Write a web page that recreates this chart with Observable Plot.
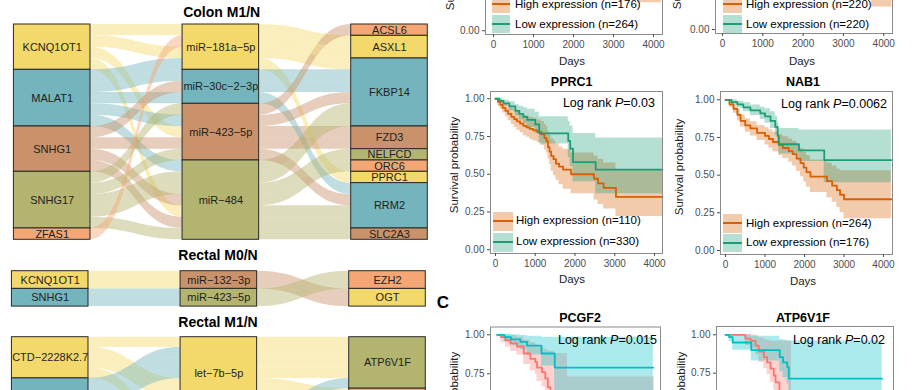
<!DOCTYPE html>
<html><head><meta charset="utf-8">
<script src="https://cdn.jsdelivr.net/npm/d3@7"></script>
<script src="https://cdn.jsdelivr.net/npm/@observablehq/plot@0.6"></script>
<style>
html,body{margin:0;padding:0;background:#fff;}
#root{position:relative;width:915px;height:390px;overflow:hidden;background:#fff;font-family:'Liberation Sans',Arial,Helvetica,sans-serif;}
.lbl{position:absolute;white-space:nowrap;line-height:1;color:#000;font-family:'Liberation Sans',Arial,Helvetica,sans-serif;}
.sw{position:absolute;}
</style></head><body><div id="root"></div>
<script>
// ---------------- Sankey data ----------------
const palette = ["#F3D96B", "#74B5BD", "#C9926A", "#B3B46F", "#F4A774"];

const colonLnc = ["KCNQ1OT1", "MALAT1", "SNHG1", "SNHG17", "ZFAS1"];
const colonMir = ["miR−181a−5p", "miR−30c−2−3p", "miR−423−5p", "miR−484"];
const colonMrna = ["ACSL6", "ASXL1", "FKBP14", "FZD3", "NELFCD", "ORC6", "PPRC1", "RRM2", "SLC2A3"];
const colonLinks = [
  ["KCNQ1OT1", "miR−181a−5p", "ASXL1"],
  ["KCNQ1OT1", "miR−181a−5p", "FKBP14"],
  ["KCNQ1OT1", "miR−423−5p", "FZD3"],
  ["KCNQ1OT1", "miR−484", "RRM2"],
  ["MALAT1", "miR−181a−5p", "PPRC1"],
  ["MALAT1", "miR−30c−2−3p", "FKBP14"],
  ["MALAT1", "miR−30c−2−3p", "RRM2"],
  ["MALAT1", "miR−423−5p", "FKBP14"],
  ["MALAT1", "miR−484", "FKBP14"],
  ["SNHG1", "miR−30c−2−3p", "FKBP14"],
  ["SNHG1", "miR−423−5p", "FZD3"],
  ["SNHG1", "miR−484", "ORC6"],
  ["SNHG1", "miR−484", "RRM2"],
  ["SNHG17", "miR−423−5p", "RRM2"],
  ["SNHG17", "miR−484", "NELFCD"],
  ["SNHG17", "miR−484", "FKBP14"],
  ["SNHG17", "miR−484", "SLC2A3"],
  ["SNHG17", "miR−423−5p", "ACSL6"],
  ["ZFAS1", "miR−181a−5p", "ASXL1"]
];

const m0Lnc = ["KCNQ1OT1", "SNHG1"];
const m0Mir = ["miR−132−3p", "miR−423−5p"];
const m0Mrna = ["EZH2", "OGT"];
const m0Links = [
  ["KCNQ1OT1", "miR−132−3p", "OGT"],
  ["SNHG1", "miR−423−5p", "EZH2"]
];

const m1Lnc = ["CTD−2228K2.7", "KCNQ1OT1"];
const m1Mir = ["let−7b−5p", "miR−423−5p"];
const m1Mrna = ["ATP6V1F", "PCGF2"];
const m1Links = [
  ["CTD−2228K2.7", "let−7b−5p", "ATP6V1F"],
  ["CTD−2228K2.7", "let−7b−5p", "PCGF2"],
  ["CTD−2228K2.7", "let−7b−5p", "PCGF2"],
  ["CTD−2228K2.7", "miR−423−5p", "PCGF2"],
  ["KCNQ1OT1", "let−7b−5p", "ATP6V1F"],
  ["KCNQ1OT1", "let−7b−5p", "ATP6V1F"],
  ["KCNQ1OT1", "let−7b−5p", "ATP6V1F"],
  ["KCNQ1OT1", "let−7b−5p", "PCGF2"],
  ["KCNQ1OT1", "miR−423−5p", "ATP6V1F"]
];

// ---------------- Survival data ----------------
const survTicksX = [0, 1000, 2000, 3000, 4000];
const survTicksY = [0, 0.25, 0.5, 0.75, 1];

// top-left (cropped) panel
const a1High = {days:[0,300,700,1200,1700,2200,2700,3600,4200], surv:[1,.92,.84,.75,.62,.52,.45,.33,.33], lower:[1,.88,.78,.68,.54,.43,.35,.185,.185], upper:[1,.96,.9,.82,.70,.62,.57,.5,.5]};
const a1Low = {days:[0,300,700,1200,1700,2200,2700,3300,4200], surv:[1,.95,.9,.84,.76,.7,.65,.6,.6], lower:[1,.92,.86,.79,.69,.62,.55,.48,.48], upper:[1,.98,.94,.89,.83,.78,.75,.72,.72]};
// top-right (cropped) panel
const b1High = {days:[0,300,700,1200,1700,2200,2800,3700,4200], surv:[1,.92,.83,.73,.62,.53,.44,.3,.3], lower:[1,.88,.77,.66,.54,.44,.34,.15,.15], upper:[1,.96,.89,.8,.7,.63,.56,.48,.48]};
const b1Low = {days:[0,300,700,1200,1700,2200,2800,3700,4200], surv:[1,.95,.9,.85,.78,.72,.66,.6,.6], lower:[1,.92,.86,.8,.72,.64,.57,.5,.5], upper:[1,.98,.94,.9,.84,.8,.76,.72,.72]};

const pprc1High = {
  days:[0,60,120,180,250,320,400,470,540,620,700,780,860,950,1050,1150,1230,1280,1320,1360,1400,1460,1520,1600,1700,1900,2480,2580,2720,3030,4200],
  surv:[1,.98,.96,.94,.92,.90,.88,.865,.85,.835,.82,.81,.80,.79,.78,.765,.74,.72,.68,.65,.62,.60,.57,.55,.53,.50,.47,.44,.41,.35,.35],
  upper:[1,1,.99,.98,.965,.95,.935,.925,.91,.90,.89,.885,.875,.87,.86,.85,.83,.815,.78,.76,.735,.72,.70,.68,.665,.64,.62,.60,.575,.525,.525],
  lower:[1,.95,.93,.905,.88,.855,.83,.81,.79,.775,.755,.745,.73,.72,.71,.69,.66,.64,.60,.565,.52,.49,.46,.43,.40,.37,.33,.30,.27,.22,.22]
};
const pprc1Low = {
  days:[0,100,200,350,500,600,700,800,1000,1100,1830,1880,1950,2520,4200],
  surv:[1,.985,.97,.95,.92,.90,.88,.86,.83,.77,.72,.67,.58,.53,.53],
  upper:[1,1,.99,.98,.96,.95,.94,.93,.91,.88,.85,.82,.77,.74,.74],
  lower:[1,.97,.95,.92,.885,.86,.835,.81,.77,.70,.61,.55,.45,.37,.37]
};
const nab1High = {
  days:[0,100,200,300,380,500,630,800,1000,1100,1200,1350,1450,1600,1700,1800,1900,1980,2050,2150,2570,2700,2820,2900,3000,4200],
  surv:[1,.97,.94,.90,.86,.83,.81,.78,.76,.74,.72,.70,.68,.66,.64,.61,.58,.55,.52,.49,.46,.43,.40,.37,.34,.34],
  upper:[1,.99,.965,.935,.90,.875,.855,.83,.815,.80,.785,.77,.755,.74,.725,.70,.675,.65,.63,.60,.58,.56,.54,.53,.53,.53],
  lower:[1,.95,.91,.865,.82,.785,.76,.73,.70,.68,.655,.63,.61,.585,.56,.525,.49,.455,.42,.385,.35,.32,.285,.25,.21,.21]
};
const nab1Low = {
  days:[0,150,300,450,630,880,1000,1140,1260,1320,1350,1860,2500,4200],
  surv:[1,.985,.97,.95,.93,.91,.89,.86,.82,.76,.705,.665,.60,.60],
  upper:[1,1,.99,.98,.965,.95,.94,.92,.89,.85,.81,.80,.80,.80],
  lower:[1,.965,.945,.92,.895,.87,.845,.81,.765,.70,.64,.59,.45,.45]
};
const pcgf2High = {
  days:[0,70,150,240,360,480,600,690,720,810,870,915,960,1030,1150,1270,1600,2840],
  surv:[1,.985,.965,.945,.925,.88,.845,.825,.79,.76,.72,.665,.62,.54,.47,.42,.38,.38],
  upper:[1,1,1,.995,.985,.965,.95,.94,.925,.915,.905,.90,.895,.88,.88,.73,.73,.73],
  lower:[1,.95,.92,.895,.87,.81,.77,.745,.70,.665,.62,.555,.50,.41,.33,.27,.22,.22]
};
const pcgf2Low = {
  days:[0,130,250,420,540,800,1040,2820],
  surv:[1,.985,.97,.955,.93,.88,.79,.79],
  upper:[1,1,1,.995,.99,.985,.985,.985],
  lower:[1,.955,.93,.905,.87,.80,.62,.62]
};
const atpHigh = {
  days:[0,330,420,500,555,640,695,750,805,835,900,1000,1100,1500,2610],
  surv:[1,.975,.96,.93,.89,.855,.82,.78,.735,.69,.62,.55,.45,.38,.38],
  upper:[1,1,1,.995,.98,.97,.965,.96,.96,.96,.96,.96,.60,.55,.55],
  lower:[1,.93,.91,.87,.82,.78,.74,.69,.64,.59,.51,.43,.32,.24,.24]
};
const atpLow = {
  days:[0,60,120,430,905,960,1030,1055,2610],
  surv:[1,.985,.95,.90,.855,.82,.79,.715,.715],
  upper:[1,1,1,.99,.97,.965,.96,.96,.96],
  lower:[1,.955,.90,.83,.76,.72,.68,.58,.58]
};

// ---------------- helpers ----------------
const FONT = "'Liberation Sans', Arial, Helvetica, sans-serif";
const root = document.getElementById("root");
const HW = 0.227; // node half width in axis units

function place(el, left, top) {
  const d = document.createElement("div");
  d.style.position = "absolute"; d.style.left = left + "px"; d.style.top = top + "px";
  d.appendChild(el); root.appendChild(d);
}
function txt(html, x, y, o = {}) {
  const d = document.createElement("div");
  d.className = "lbl";
  d.innerHTML = html;
  d.style.left = x + "px"; d.style.top = y + "px";
  d.style.fontSize = (o.size || 11) + "px";
  if (o.bold) d.style.fontWeight = "bold";
  if (o.color) d.style.color = o.color;
  const ax = o.anchor === "start" ? "0" : o.anchor === "end" ? "-100%" : "-50%";
  d.style.transform = `translate(${ax},-50%)` + (o.rotate ? " rotate(-90deg)" : "");
  root.appendChild(d);
}
function swatch(x1, x2, y1, y2, fill, line) {
  const d = document.createElement("div");
  d.className = "sw";
  d.style.left = x1 + "px"; d.style.top = y1 + "px";
  d.style.width = (x2 - x1) + "px"; d.style.height = (y2 - y1) + "px";
  d.style.background = fill;
  const l = document.createElement("div");
  l.style.position = "absolute"; l.style.left = "0"; l.style.right = "0";
  l.style.top = ((y2 - y1) / 2 - 1) + "px"; l.style.height = "2px"; l.style.background = line;
  d.appendChild(l);
  root.appendChild(d);
}

function sankey(lnc, mir, mrna, links, colorStart, xRange, yTop, unit) {
  const axes = [lnc, mir, mrna];
  const nodes = [], colorDomain = [], colorRange = [];
  axes.forEach((names, a) => {
    let c = 0;
    names.forEach((n, i) => {
      const k = links.filter(l => l[a] === n).length;
      nodes.push({axis: a, name: n, y1: c, y2: c + k});
      colorDomain.push(n);
      colorRange.push(palette[(colorStart[a] + i) % palette.length]);
      c += k;
    });
  });
  const total = links.length;
  const orderKeys = [[0, 1, 2], [1, 2, 0], [2, 1, 0]];
  const slot = axes.map(() => new Array(total));
  axes.forEach((names, a) => {
    const idx = links.map((l, k) => k);
    const rank = (k, ax) => axes[ax].indexOf(links[k][ax]);
    idx.sort((p, q) => {
      for (const ax of orderKeys[a]) { const d = rank(p, ax) - rank(q, ax); if (d) return d; }
      return p - q;
    });
    idx.forEach((k, pos) => slot[a][k] = pos);
  });
  const flows = [];
  links.forEach((l, k) => {
    for (let g = 0; g < 2; g++) {
      flows.push({id: `${k}-${g}`, x: g + HW, y1: slot[g][k], y2: slot[g][k] + 1, key: l[g]});
      flows.push({id: `${k}-${g}`, x: g + 1 - HW, y1: slot[g + 1][k], y2: slot[g + 1][k] + 1, key: l[g]});
    }
  });
  return Plot.plot({
    width: 430, height: 390, margin: 0,
    x: {domain: [0, 2], range: xRange, axis: null},
    y: {domain: [0, total], range: [yTop, yTop + total * unit], axis: null},
    color: {domain: colorDomain, range: colorRange},
    style: {fontFamily: FONT, background: "transparent", overflow: "visible"},
    marks: [
      Plot.areaY(flows, {x: "x", y1: "y1", y2: "y2", z: "id", fill: "key", fillOpacity: 0.45, curve: "bump-x"}),
      Plot.rect(nodes, {x1: d => d.axis - HW, x2: d => d.axis + HW, y1: "y1", y2: "y2", fill: "name", stroke: "#2a2a2a", strokeWidth: 1}),
      Plot.text(nodes, {x: "axis", y: d => (d.y1 + d.y2) / 2, text: "name", fontSize: 11, fill: "#1e1e1e"})
    ]
  });
}

function km(c) {
  const rows = [];
  [["High", c.high], ["Low", c.low]].forEach(([g, s]) =>
    s.days.forEach((t, i) => rows.push({g, t, s: s.surv[i], lo: s.lower[i], hi: s.upper[i]})));
  const svg = Plot.plot({
    width: c.w, height: c.h,
    marginLeft: c.mL, marginRight: c.mR, marginTop: c.mT, marginBottom: c.mB,
    x: {domain: c.xd}, y: {domain: c.yd},
    color: {domain: ["High", "Low"], range: c.colors},
    style: {fontFamily: FONT, fontSize: "10px", background: "transparent", overflow: "visible"},
    marks: [
      Plot.areaY(rows, {x: "t", y1: "lo", y2: "hi", z: "g", fill: "g", fillOpacity: 0.33, curve: "step-after"}),
      Plot.line(rows, {x: "t", y: "s", z: "g", stroke: "g", strokeWidth: 1.8, curve: "step-after"}),
      Plot.frame({stroke: "#8a8a8a", strokeWidth: 1}),
      Plot.axisX({ticks: survTicksX, tickFormat: d3.format("d"), tickSize: 3, tickPadding: 3, label: null, color: "#4d4d4d"}),
      Plot.axisY({ticks: survTicksY, tickFormat: d3.format(".2f"), tickSize: 3, tickPadding: 3, label: null, color: "#4d4d4d"})
    ]
  });
  place(svg, c.left, c.top);
}

// ---------------- Sankey panels ----------------
place(sankey(colonLnc, colonMir, colonMrna, colonLinks, [0, 5, 9], [51.7, 389], 24, 215.3 / 19), 0, 0);
place(sankey(m0Lnc, m0Mir, m0Mrna, m0Links, [0, 2, 4], [49.7, 387], 270.7, 17.7), 0, 0);
place(sankey(m1Lnc, m1Mir, m1Mrna, m1Links, [0, 0, 3], [49.7, 387], 336.7, 10.3), 0, 0);
txt("Colon M1/N", 221.7, 11.7, {size: 14, bold: true});
txt("Rectal M0/N", 218, 255, {size: 14, bold: true});
txt("Rectal M1/N", 218, 321.7, {size: 14, bold: true});

// ---------------- Survival panels ----------------
const ORANGE = "#D95F02", GREEN = "#1B9E77";
const OFILL = "rgba(217,95,2,0.33)", GFILL = "rgba(27,158,119,0.33)";
const RED = "#F8766D", CYAN = "#00BFC4";

km({left: 425, top: -148.6, w: 250, h: 230, mL: 60, mR: 13, mT: 21, mB: 47, xd: [-200, 4225], yd: [-0.025, 1.048], high: a1High, low: a1Low, colors: [ORANGE, GREEN]});
km({left: 665, top: -150.7, w: 250, h: 230, mL: 50, mR: 23, mT: 21, mB: 46, xd: [-174, 4218], yd: [-0.0265, 1.055], high: b1High, low: b1Low, colors: [ORANGE, GREEN]});
km({left: 430, top: 70, w: 250, h: 230, mL: 60, mR: 18, mT: 21, mB: 47, xd: [-125, 4200], yd: [-0.025, 1.048], high: pprc1High, low: pprc1Low, colors: [ORANGE, GREEN]});
km({left: 670, top: 70, w: 245, h: 230, mL: 50, mR: 23, mT: 21, mB: 46, xd: [-127, 4228], yd: [-0.0265, 1.055], high: nab1High, low: nab1Low, colors: [ORANGE, GREEN]});
km({left: 430, top: 300, w: 250, h: 230, mL: 60, mR: 20, mT: 26.5, mB: 32, xd: [-120, 2950], yd: [-0.05, 1.05], high: pcgf2High, low: pcgf2Low, colors: [RED, CYAN]});
km({left: 670, top: 300, w: 245, h: 230, mL: 46, mR: 22, mT: 26, mB: 34.4, xd: [-150, 2800], yd: [-0.05, 1.054], high: atpHigh, low: atpLow, colors: [RED, CYAN]});

// legends
swatch(492, 510, -5, 13, OFILL, ORANGE); swatch(492, 510, 15, 33, GFILL, GREEN);
txt("High expression (n=176)", 515, 5, {size: 11.5, anchor: "start"});
txt("Low expression (n=264)", 515, 25, {size: 11.5, anchor: "start"});
swatch(723, 742, -5, 13, OFILL, ORANGE); swatch(723, 742, 15, 33, GFILL, GREEN);
txt("High expression (n=220)", 746, 5, {size: 11.5, anchor: "start"});
txt("Low expression (n=220)", 746, 25, {size: 11.5, anchor: "start"});
swatch(493, 513, 211.5, 230.5, OFILL, ORANGE); swatch(493, 513, 232.5, 251.5, GFILL, GREEN);
txt("High expression (n=110)", 516, 220.7, {size: 11.5, anchor: "start"});
txt("Low expression (n=330)", 516, 241.7, {size: 11.5, anchor: "start"});
swatch(723, 742, 213.5, 232.5, OFILL, ORANGE); swatch(723, 742, 234, 252, GFILL, GREEN);
txt("High expression (n=264)", 746, 224, {size: 11.5, anchor: "start"});
txt("Low expression (n=176)", 746, 243.3, {size: 11.5, anchor: "start"});

// titles, p-values, axis titles
txt("PPRC1", 571.7, 81.7, {size: 12.5, bold: true});
txt("NAB1", 803, 82, {size: 12.5, bold: true});
txt("PCGF2", 580, 318, {size: 12.5, bold: true});
txt("ATP6V1F", 803, 318, {size: 12.5, bold: true});
txt("Log rank <i>P</i>=0.03", 655, 103, {size: 12.5, anchor: "end"});
txt("Log rank <i>P</i>=0.0062", 887, 104, {size: 12.5, anchor: "end"});
txt("Log rank <i>P</i>=0.015", 657, 340, {size: 12.5, anchor: "end"});
txt("Log rank <i>P</i>=0.02", 885, 340, {size: 12.5, anchor: "end"});
txt("Survival probability", 451, -38, {size: 11.5, rotate: true, color: "#222"});
txt("Survival probability", 678, -39, {size: 11.5, rotate: true, color: "#222"});
txt("Survival probability", 455, 165, {size: 11.5, rotate: true, color: "#222"});
txt("Survival probability", 680, 167, {size: 11.5, rotate: true, color: "#222"});
txt("Survival probability", 455, 400, {size: 11.5, rotate: true, color: "#222"});
txt("Survival probability", 682, 400, {size: 11.5, rotate: true, color: "#222"});
txt("Days", 572, 62, {size: 11.5, color: "#222"});
txt("Days", 802, 62, {size: 11.5, color: "#222"});
txt("Days", 572, 280, {size: 11.5, color: "#222"});
txt("Days", 803, 282, {size: 11.5, color: "#222"});
txt("C", 443, 302, {size: 17, bold: true});
</script></body></html>
